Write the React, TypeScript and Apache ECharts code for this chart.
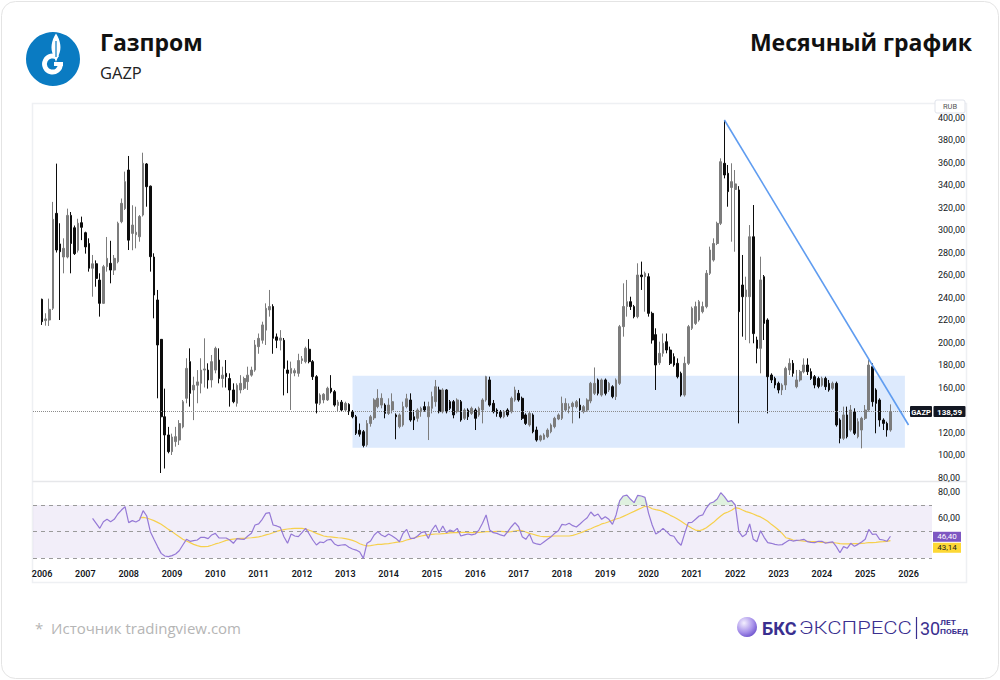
import React, { useEffect, useRef } from "react";
import * as echarts from "echarts";

// ---------- DATA (monthly GAZP candles, Jan 2006 .. Aug 2025) ----------
const FIRST_YEAR = 2006;

const opens = [
  238.4, 219.5, 220, 230.4, 314.8, 287.6, 276, 276, 313, 302, 282, 306.5,
  297.6, 288, 266, 270, 255.5, 234.8, 267.4, 270.4, 264.4, 271.8, 307.4, 319,
  353.3, 297, 295.8, 294, 313.3, 358.7, 339, 276, 237.8, 202.8, 134, 117.8,
  103, 111.9, 113.3, 125, 150.4, 183, 157.8, 162, 163.7, 175.5, 175.5, 166.7,
  175.5, 184.4, 168, 172.6, 168, 157.8, 146, 157.8, 159.3, 165.2, 171, 175.5,
  196.3, 202, 211, 229, 232, 205, 202, 202, 175.5, 172.6, 173, 172.6,
  184, 183, 194, 183, 169.6, 146, 149, 149, 159.3, 156.3, 144, 147,
  140, 145, 138.5, 134, 122, 120.7, 109, 128, 133, 143, 144.4, 144.4,
  137, 140, 135.6, 125.2, 126.7, 143, 148.9, 134, 132.6, 138.5, 143, 134,
  141.5, 147.4, 157.8, 138.5, 157.8, 147.4, 147.4, 138.5, 147.4, 132.6, 140, 137,
  140, 135.6, 140, 148.9, 166.7, 145.9, 140, 138.5, 134, 140, 138.5, 148.9,
  154.8, 150.4, 135.6, 126.7, 135.6, 122.2, 113.3, 114, 116.3, 120.7, 125.2, 132,
  132.6, 140, 141.5, 143, 143, 144.4, 138.5, 140, 148, 154.8, 166.7, 153.3,
  166.7, 157.8, 160.7, 151.9, 163.7, 214.1, 232, 236.3, 231.9, 223, 260, 258.5,
  258.5, 225.9, 207, 182, 190.4, 200.7, 193.3, 187.4, 181.5, 172.6, 153.3, 181.5,
  212.6, 217, 220, 227.4, 231.9, 261.5, 273.3, 288, 305.9, 359.3, 350.4, 337.8,
  336, 335.6, 251.1, 240.7, 240.7, 294, 202.2, 194.8, 258.5, 220, 171.1, 168.1,
  163.7, 157.8, 162.2, 175.6, 181.5, 160.7, 166.7, 174, 180, 174.1, 169.6, 168,
  162, 168.1, 163.7, 159.3, 163.7, 131.1, 114.8, 135.6, 122.2, 138.5, 116.3, 122.2,
  132.6, 140, 178.5, 157.8, 148.9, 131.1, 128.1, 122.2,
];

const closes = [
  218.5, 221, 229.5, 309.5, 282.2, 280.7, 283.7, 313, 288, 279, 306, 302.4,
  285, 266, 270, 257, 234.8, 267.4, 274.8, 264.4, 274.8, 306, 323.7, 343,
  291, 304.4, 298, 312, 359.3, 338.5, 276.3, 242.2, 197.8, 134, 117.8, 103,
  116, 116.3, 128, 147.4, 177, 154.8, 162, 165, 175.5, 176.5, 166.7, 183,
  194.8, 168, 171, 169.6, 157.8, 147.4, 162, 163.7, 168, 171, 175.5, 197.8,
  203.7, 215.6, 230.4, 232, 203.7, 202, 204, 177, 172.6, 177, 175, 184,
  185.5, 194.8, 183, 169.6, 146, 153.3, 154, 159.3, 156.3, 144.4, 147, 140,
  145.9, 138.5, 134, 119.3, 118.5, 108.5, 128, 134, 148.9, 150.4, 150.4, 137,
  144.4, 147.4, 134, 135.6, 143, 150, 131.1, 131.1, 140, 141.5, 140, 143,
  151.9, 160.7, 138.5, 157.8, 138.5, 141.5, 135.6, 148.9, 131.1, 140, 134, 141.5,
  132.6, 141.5, 148.9, 169.6, 144.4, 138.5, 137, 134, 138.5, 135.6, 150.4, 157.8,
  148.9, 132.6, 128.1, 137, 120.7, 113.3, 117, 117.8, 122.2, 126.7, 132.6, 135.6,
  145.9, 145.9, 143, 145.9, 147.4, 140, 143, 148.9, 163.7, 163.7, 154.8, 166.7,
  154.8, 163.7, 151.9, 166.7, 214.1, 232, 236.3, 231.9, 223, 260, 258.5, 261.5,
  225.9, 202.2, 180, 190.4, 199.3, 193.3, 181.5, 180, 169.6, 153.3, 181.5, 214.1,
  230.4, 231.9, 236.3, 231.9, 261.5, 282.2, 288, 305.9, 360.7, 348.9, 334.1, 343,
  341, 227.4, 240.7, 246.7, 294, 207.9, 194.8, 255.6, 217, 169.6, 166.7, 162.2,
  157.8, 162.2, 177, 181.5, 172.6, 166.7, 174.1, 180, 174.1, 168.1, 162.2, 161,
  168.1, 160.7, 157.8, 163.7, 126.7, 114.8, 135.6, 116.3, 140, 119.3, 129.6, 132.6,
  140, 180, 147.4, 145.9, 131.1, 128.1, 122.2, 138.59,
];

const lows = [
  215.6, 215, 214.7, 228.9, 280, 220, 261.5, 274.8, 261.5, 277.8, 280, 291,
  279, 263, 240.7, 249.6, 223, 234.2, 263, 252.6, 260, 270.4, 306, 317.8,
  282.2, 282, 283.7, 289.6, 312, 320.7, 263, 221.5, 150.4, 84, 88, 101.5,
  100, 107.4, 108.9, 123.7, 146, 143, 131, 146, 154.8, 160, 159, 160,
  172.6, 163.7, 160, 160, 143, 146, 143, 154.8, 157.8, 157.8, 169.6, 174,
  190, 199, 197.8, 223, 190, 195, 193, 153, 155, 140, 170, 169.6,
  181, 181.5, 181.5, 166.7, 137, 144.4, 146, 148, 154.8, 143, 139, 138.5,
  138.5, 135.6, 132.6, 117.8, 116.3, 106.8, 107.4, 125.2, 131.1, 141.5, 141.5, 132.6,
  135.6, 137, 114, 123.7, 125.2, 141.5, 129.6, 122.2, 129.6, 134, 138.5, 113.3,
  137, 143, 137, 137, 137, 140, 132.6, 137, 129.6, 131.1, 131.1, 135.6,
  122.2, 134, 128.1, 147.4, 143, 137, 134, 132.6, 132.6, 134, 137, 147.4,
  147.4, 131.1, 126.7, 125.2, 119.3, 111.9, 111.9, 113.3, 115, 119.3, 123.7, 131,
  131.1, 138.5, 137, 128.1, 141.5, 132.6, 137, 138.5, 146, 153.3, 153, 151.9,
  153, 156, 150.4, 148.9, 162.2, 205.2, 223, 228.9, 221.5, 221.5, 246.7, 227.4,
  223, 199, 157.8, 180, 187.4, 190.4, 180, 178.5, 168.1, 151.9, 151.9, 180,
  211.1, 215.6, 218.5, 225.9, 230.4, 260, 271.9, 286.6, 304.4, 345.9, 320.7, 289.6,
  280.7, 128.1, 205.2, 202.2, 199.3, 199.3, 181.5, 172.6, 202.2, 137, 164, 159.3,
  154.8, 153.3, 157.8, 171.1, 169.6, 159.3, 165.2, 172.6, 171.1, 166.7, 159.3, 159.3,
  160.7, 157.8, 156.3, 157.8, 125.2, 110.4, 113.3, 114.8, 120.7, 117.8, 114.8, 105.9,
  131.1, 138.5, 143, 119.3, 125.2, 122.2, 116.3, 120.7,
];

const highs = [
  239, 226, 239, 325, 359, 306, 292.6, 319, 316, 304, 310, 311.9,
  298.5, 292.6, 277.8, 273, 261.5, 269, 293.8, 290.4, 277.8, 307.4, 328, 351.9,
  365.8, 322, 320.7, 313.3, 368.7, 359.5, 339.5, 279.3, 246.7, 203, 159, 125,
  119, 125, 131, 148.9, 186, 194.8, 169.6, 175.5, 186, 203.7, 181.5, 188.9,
  196.3, 194.8, 178.5, 184.4, 172.6, 163.7, 163.7, 171, 169.6, 178.5, 178.5, 202.2,
  208, 218.5, 234.8, 246.7, 234, 208, 211, 204, 184, 183, 177, 190,
  188, 196.3, 203, 184.4, 171, 154.8, 155, 160.7, 171, 157.8, 149, 148.9,
  147.4, 146, 140, 135.6, 128, 122.2, 131, 135.6, 150.4, 158.5, 154.8, 145.9,
  150.4, 154.8, 137, 137, 147.4, 154.4, 154.8, 140, 141.5, 143, 147.4, 147.4,
  156.3, 166.7, 160.7, 159.3, 158.5, 148.9, 148.9, 150.4, 148.9, 141.5, 141.5, 143,
  141.5, 143, 150.4, 170.4, 169.6, 148.9, 141.5, 140, 140, 141.5, 151.9, 160.7,
  157.8, 151.9, 137, 138.5, 137, 125.2, 118, 119.3, 123.7, 128.1, 134, 137,
  151.9, 150.4, 145.9, 147.4, 148.9, 150.4, 144.4, 150.4, 165, 177.8, 168, 168,
  168, 165, 162, 168.1, 215.6, 252.6, 255.6, 240.7, 233.4, 270.4, 271.9, 263,
  261.5, 227.4, 212.6, 200.7, 208, 208, 196.3, 190.4, 185.9, 174.1, 187.4, 215.6,
  231.9, 236.3, 237.8, 236.3, 264.4, 285.2, 292.6, 307.4, 363.7, 397.8, 357.8, 359.3,
  353.3, 339, 277.8, 258.5, 304.4, 322.2, 205.2, 276.3, 260, 221.5, 172.6, 169.6,
  165.2, 163.7, 178.5, 185.9, 184.4, 175.6, 175.6, 185.9, 185.9, 177, 171.1, 169.6,
  169.6, 169.6, 166.7, 165.2, 165.2, 132.6, 143, 143, 144.4, 141.5, 132.6, 134,
  144.4, 184.4, 181.5, 159.3, 150.4, 132.6, 129.6, 145,
];

// RSI(14), first value Mar 2007
const RSI_START = "2007-03";
const rsi = [
  59.9, 56.2, 52.4, 57.4, 59.2, 57.4, 59.2, 63.2, 66.2, 68.7,
  56.7, 58.2, 57.2, 58.7, 65.7, 61.7, 49.9, 44.1, 38.6, 33.5, 31.5, 31.0,
  31.8, 33.0, 35.5, 39.8, 44.1, 42.6, 43.1, 43.6, 45.6, 45.6, 44.6, 47.4,
  48.6, 45.1, 45.1, 45.1, 43.6, 41.1, 44.6, 44.3, 44.1, 46.6, 48.6, 54.9,
  55.7, 59.2, 63.7, 64.2, 54.9, 54.2, 53.1, 46.1, 41.1, 48.1, 46.6, 46.1,
  49.1, 52.4, 48.1, 43.6, 39.8, 42.1, 41.6, 43.6, 44.1, 40.6, 39.3, 39.8,
  40.1, 38.1, 36.8, 36.0, 34.5, 29.7, 41.1, 42.8, 47.4, 49.9, 47.4, 46.1,
  48.1, 46.6, 44.8, 42.3, 48.6, 51.6, 44.8, 44.8, 46.6, 49.1, 49.9, 44.8,
  51.1, 54.9, 49.1, 54.2, 49.1, 51.1, 49.9, 52.4, 46.6, 47.4, 48.1, 47.4,
  48.1, 51.1, 56.2, 62.5, 51.1, 49.1, 48.6, 47.4, 46.6, 49.9, 53.6, 56.7,
  53.6, 46.1, 44.1, 48.1, 41.6, 40.6, 40.1, 42.1, 44.1, 46.1, 48.6, 50.6,
  55.4, 54.9, 56.2, 54.4, 53.4, 55.7, 58.2, 60.4, 64.7, 61.7, 63.2, 59.2,
  61.2, 59.2, 55.4, 62.5, 73.3, 76.8, 77.5, 74.3, 71.8, 77.3, 76.8, 75.8,
  63.7, 54.9, 48.1, 49.9, 52.4, 49.9, 47.1, 46.4, 42.3, 39.6, 48.6, 56.7,
  56.9, 59.2, 61.7, 62.5, 67.7, 71.3, 72.3, 74.5, 79.3, 76.3, 72.5, 73.3,
  70.0, 49.9, 46.1, 47.9, 55.7, 44.1, 42.3, 50.6, 45.6, 41.6, 41.1, 40.3,
  39.8, 40.1, 41.8, 43.6, 42.8, 43.3, 43.6, 44.1, 42.3, 41.8, 41.6, 42.6,
  42.6, 41.1, 41.8, 42.1, 38.6, 34.0, 38.6, 37.3, 41.1, 38.8, 40.3, 42.1,
  44.1, 51.6, 47.9, 48.1, 44.1, 43.6, 42.6, 46.4,
];

// RSI moving average, first value Apr 2008
const MA_START = "2008-04";
const rsiMa = [
  60.2, 60.7, 60.2, 59.2, 58.2, 56.9, 55.4, 53.6, 51.6,
  49.9, 47.9, 46.1, 44.1, 42.8, 41.6, 40.3, 39.3, 38.6, 38.6, 38.8, 39.6,
  40.6, 41.3, 42.3, 43.3, 43.8, 44.3, 44.6, 44.8, 44.8, 45.1, 45.3, 45.6,
  45.9, 46.6, 47.4, 48.1, 49.1, 50.1, 50.9, 51.4, 51.9, 52.1, 52.4, 52.4,
  52.4, 51.9, 50.9, 49.9, 48.6, 47.6, 46.6, 46.1, 45.9, 45.6, 45.3, 45.1,
  44.6, 44.1, 43.3, 42.3, 40.8, 39.8, 39.1, 39.3, 39.8, 40.3, 40.3, 40.6,
  40.8, 41.3, 41.8, 42.1, 42.6, 43.6, 44.3, 45.1, 45.9, 46.6, 47.1, 47.6,
  47.9, 48.1, 48.1, 48.4, 48.6, 48.9, 49.1, 49.1, 49.4, 49.4, 49.4, 49.1,
  49.1, 49.4, 49.6, 49.9, 49.9, 49.9, 50.1, 50.1, 49.9, 49.6, 49.9, 50.4,
  50.9, 50.6, 49.6, 48.6, 47.9, 47.1, 46.4, 46.1, 46.1, 46.4, 46.6, 46.6,
  46.6, 46.6, 46.6, 47.1, 47.9, 48.9, 49.9, 51.1, 52.1, 53.4, 54.4, 55.7,
  56.4, 57.4, 58.4, 59.4, 60.2, 61.4, 62.7, 64.0, 65.2, 66.5, 67.7, 69.0,
  68.7, 67.2, 66.5, 66.0, 65.0, 63.7, 62.2, 61.0, 59.4, 57.7, 55.9, 54.2,
  52.4, 51.1, 50.6, 51.4, 52.9, 54.9, 56.9, 59.4, 61.7, 63.7, 64.7, 66.0,
  68.0, 67.5, 66.2, 65.0, 64.2, 63.2, 62.0, 61.0, 59.4, 57.7, 55.4, 53.4,
  51.1, 48.6, 45.3, 44.6, 43.6, 43.3, 43.1, 42.8, 42.6, 42.3, 42.3, 42.1,
  41.8, 41.8, 41.6, 41.6, 41.3, 40.8, 40.6, 40.6, 40.6, 40.8, 40.8, 41.1,
  41.3, 41.6, 41.6, 41.8, 42.1, 42.3, 42.6, 43.14,
];

// Drawn annotations (price / month anchors)
const RANGE_FROM = "2013-03";
const RANGE_TO = "2025-12";
const RANGE_LOW = 106.5;
const RANGE_HIGH = 170.5;
const TREND_START: [string, number] = ["2021-10", 397.8];
const TREND_END: [string, number] = ["2026-01", 126.7];

const PRICE_MIN = 80;
const PRICE_MAX = 400;
const PRICE_STEP = 20;
const RSI_MIN = 20;
const RSI_MAX = 90;
const RSI_STEP = 20;
const RSI_LEVELS = [70, 50, 30];

// ---------- helpers ----------
const ym = (k: number) => {
  const y = FIRST_YEAR + Math.floor(k / 12);
  const m = (((k % 12) + 12) % 12) + 1;
  return `${y}-${m < 10 ? "0" + m : m}`;
};
const months = opens.map((_, k) => ym(k));
const PAD_BEFORE = 2;
const PAD_AFTER = 11;
const axisCats: string[] = [];
for (let k = -PAD_BEFORE; k < opens.length + PAD_AFTER; k++) axisCats.push(ym(k));

const rsiOffset = months.indexOf(RSI_START);
const maOffset = months.indexOf(MA_START);
const rsiMonths = rsi.map((_, j) => ym(rsiOffset + j));
const maMonths = rsiMa.map((_, j) => ym(maOffset + j));

const lastClose = closes[closes.length - 1];
const lastRsi = rsi[rsi.length - 1];
const lastMa = rsiMa[rsiMa.length - 1];

const fmt = (v: number) => v.toFixed(2).replace(".", ",");

const FLAME_D =
  "M56,33.5 C60.8,41 61.8,48.5 58.8,55 C57.8,57.5 56.7,59.8 56,62 C55.3,59.8 54.2,57.5 53.2,55 C50.2,48.5 51.2,41 56,33.5 Z";
echarts.graphic.registerShape("gpFlame", echarts.graphic.extendPath(FLAME_D, {}) as any);

const GRID_L = 33;
const GRID_W = 899;

function buildOption(): any {
  const axisFont = { color: "#131722", fontSize: 9, fontFamily: "Roboto" };
  return {
    animation: false,
    backgroundColor: "transparent",
    grid: [
      { left: GRID_L, width: GRID_W, top: 117.5, height: 360 },
      { left: GRID_L, width: GRID_W, top: 478.5, height: 92.75 },
    ],
    xAxis: [
      {
        type: "category",
        gridIndex: 0,
        data: axisCats,
        boundaryGap: true,
        axisLine: { show: false },
        axisTick: { show: false },
        axisLabel: { show: false },
        splitLine: { show: false },
      },
      {
        type: "category",
        gridIndex: 1,
        data: axisCats,
        boundaryGap: true,
        axisLine: { show: false },
        axisTick: { show: false },
        splitLine: { show: false },
        axisLabel: {
          show: true,
          interval: (_i: number, v: string) => v.endsWith("-01"),
          formatter: (v: string) => v.slice(0, 4),
          margin: 3,
          verticalAlign: "middle",
          fontWeight: 600,
          ...axisFont,
        },
      },
    ],
    yAxis: [
      {
        type: "value",
        gridIndex: 0,
        position: "right",
        min: PRICE_MIN,
        max: PRICE_MAX,
        interval: PRICE_STEP,
        axisLine: { show: false },
        axisTick: { show: false },
        splitLine: { show: false },
        // the last-price tag hides the tick label it covers
        axisLabel: {
          formatter: (v: number) => (Math.abs(v - lastClose) < 8 ? "" : fmt(v)),
          margin: 6,
          ...axisFont,
        },
      },
      {
        type: "value",
        gridIndex: 1,
        position: "right",
        min: RSI_MIN,
        max: RSI_MAX,
        interval: RSI_STEP,
        axisLine: { show: false },
        axisTick: { show: false },
        splitLine: { show: false },
        axisLabel: {
          formatter: (v: number) => (v < lastRsi + 5 && v > lastRsi - 15 ? "" : fmt(v)),
          margin: 6,
          showMinLabel: false,
          showMaxLabel: false,
          ...axisFont,
        },
      },
    ],
    series: [
      {
        type: "candlestick",
        xAxisIndex: 0,
        yAxisIndex: 0,
        data: months.map((m, k) => [m, opens[k], closes[k], lows[k], highs[k]]),
        encode: { x: 0, y: [1, 2, 3, 4] },
        barWidth: "60%",
        itemStyle: {
          color: "#7c7c7c",
          color0: "#0c0c0c",
          borderColor: "#7c7c7c",
          borderColor0: "#0c0c0c",
          borderWidth: 1,
        },
        markArea: {
          silent: true,
          itemStyle: { color: "rgba(56,132,245,0.17)" },
          data: [[{ xAxis: RANGE_FROM, yAxis: RANGE_HIGH }, { xAxis: RANGE_TO, yAxis: RANGE_LOW }]],
        },
        markLine: {
          silent: true,
          symbol: ["none", "none"],
          label: { show: false },
          data: [
            { yAxis: lastClose, lineStyle: { color: "#8c8c8c", type: "dotted", width: 1 } },
            [
              { coord: TREND_START, lineStyle: { color: "#5f9cf0", type: "solid", width: 1.6 } },
              { coord: TREND_END },
            ],
          ],
        },
      },
      {
        type: "line",
        xAxisIndex: 1,
        yAxisIndex: 1,
        data: rsiMonths.map((m, j) => [m, Math.max(rsi[j], RSI_LEVELS[0])]),
        symbol: "none",
        lineStyle: { width: 0, opacity: 0 },
        areaStyle: { origin: RSI_LEVELS[0], color: "rgba(76,175,80,0.26)" },
        z: 3,
        silent: true,
      },
      {
        type: "line",
        xAxisIndex: 1,
        yAxisIndex: 1,
        data: rsiMonths.map((m, j) => [m, rsi[j]]),
        symbol: "none",
        lineStyle: { color: "#9579d6", width: 1.2 },
        z: 5,
        silent: true,
        markArea: {
          silent: true,
          itemStyle: { color: "rgba(126,87,194,0.1)" },
          data: [[{ yAxis: RSI_LEVELS[2] }, { yAxis: RSI_LEVELS[0] }]],
        },
        markLine: {
          silent: true,
          symbol: ["none", "none"],
          label: { show: false },
          lineStyle: { color: "#9a9a9a", type: [4, 4], width: 1 },
          data: RSI_LEVELS.map((v) => ({ yAxis: v })),
        },
      },
      {
        type: "line",
        xAxisIndex: 1,
        yAxisIndex: 1,
        data: maMonths.map((m, j) => [m, rsiMa[j]]),
        symbol: "none",
        lineStyle: { color: "#f6d04d", width: 1.2 },
        z: 4,
        silent: true,
      },
    ],
  };
}

function T(text: string, x: number, y: number, font: string, fill: string, align = "left", sx = 1, z = 60) {
  return { type: "text", x, y, z, scaleX: sx, style: { text, font, fill, align, verticalAlign: "middle" } };
}

function buildGraphics(py: number, ry: number): any[] {
  const bks = "#3a2f8f";
  return [
    {
      type: "rect",
      z: -20,
      shape: { x: 1.5, y: 1.5, width: 997, height: 677, r: 14 },
      style: { fill: "#ffffff", stroke: "#e4e4e4", lineWidth: 1 },
    },
    {
      type: "rect",
      z: -10,
      shape: { x: 32.5, y: 103.5, width: 934, height: 479 },
      style: { fill: "none", stroke: "#eef0f3", lineWidth: 1.5 },
    },
    {
      type: "line",
      z: -10,
      shape: { x1: 32.5, y1: 481.5, x2: 966.5, y2: 481.5 },
      style: { stroke: "#e6e7ea", lineWidth: 1.5 },
    },
    // Gazprom logo
    { type: "circle", z: 20, shape: { cx: 53, cy: 59, r: 27 }, style: { fill: "#0a7bc2" } },
    {
      type: "arc",
      z: 21,
      shape: { cx: 52.5, cy: 64, r: 8, startAngle: 0, endAngle: Math.PI * 1.72, clockwise: true },
      style: { stroke: "#ffffff", lineWidth: 4.8, fill: "none" },
    },
    { type: "line", z: 21, shape: { x1: 54, y1: 64, x2: 63, y2: 64 }, style: { stroke: "#ffffff", lineWidth: 4 } },
    { type: "gpFlame", z: 22, style: { fill: "#ffffff" } },
    { type: "line", z: 23, shape: { x1: 56, y1: 41, x2: 56, y2: 57 }, style: { stroke: "#0a7bc2", lineWidth: 1.2 } },
    // header texts
    T("Газпром", 100, 42, '700 23px "Open Sans"', "#111111"),
    T("GAZP", 100, 72, '400 16.5px "Open Sans"', "#222222"),
    T("Месячный график", 972, 42, '700 23px "Open Sans"', "#111111", "right"),
    // RUB box
    {
      type: "rect",
      z: 50,
      shape: { x: 935, y: 100, width: 30, height: 13, r: 2 },
      style: { fill: "#ffffff", stroke: "#e0e3eb", lineWidth: 1 },
    },
    T("RUB", 950, 106.5, '7.5px "Roboto"', "#555555", "center"),
    // last price tags
    { type: "rect", z: 50, shape: { x: 910, y: py - 5.5, width: 22, height: 11, r: 1 }, style: { fill: "#131722" } },
    T("GAZP", 921, py + 0.5, '700 7.5px "Roboto"', "#ffffff", "center"),
    { type: "rect", z: 50, shape: { x: 933.5, y: py - 5.5, width: 32, height: 11, r: 1 }, style: { fill: "#131722" } },
    T(fmt(lastClose), 949.5, py + 0.5, '700 8px "Roboto"', "#ffffff", "center"),
    // RSI tags
    { type: "rect", z: 50, shape: { x: 933, y: ry - 4.5, width: 28, height: 10 }, style: { fill: "#7e57c2" } },
    T(fmt(lastRsi), 947, ry + 0.5, '400 8px "Roboto"', "#ffffff", "center"),
    { type: "rect", z: 50, shape: { x: 933, y: ry + 6.5, width: 28, height: 10 }, style: { fill: "#fdd835" } },
    T(fmt(lastMa), 947, ry + 11.5, '400 8px "Roboto"', "#222222", "center"),
    // footer
    T("*  Источник tradingview.com", 35, 628, '400 15px "Open Sans"', "#b5b5b5"),
    {
      type: "circle",
      z: 60,
      shape: { cx: 747, cy: 627, r: 10 },
      style: {
        fill: new echarts.graphic.RadialGradient(0.35, 0.3, 0.85, [
          { offset: 0, color: "#f3effe" },
          { offset: 0.55, color: "#a892ea" },
          { offset: 1, color: "#5b3fc4" },
        ]),
      },
    },
    T("БКС", 762, 628, '700 18px "Roboto"', bks),
    T("ЭКСПРЕСС", 799, 628, '300 19px "Roboto"', bks, "left", 1.16),
    { type: "line", z: 60, shape: { x1: 916.5, y1: 617, x2: 916.5, y2: 639 }, style: { stroke: bks, lineWidth: 1.2 } },
    T("30", 920, 628, '400 18px "Roboto"', bks),
    T("ЛЕТ", 940, 622.5, '700 7px "Roboto"', bks, "left", 1.2),
    T("ПОБЕД", 940, 632, '700 7px "Roboto"', bks, "left", 1.2),
  ];
}

export default function App() {
  const ref = useRef<HTMLDivElement>(null);
  useEffect(() => {
    if (!ref.current) return;
    const chart = echarts.init(ref.current, undefined, { renderer: "svg" });
    chart.setOption(buildOption());
    const py = chart.convertToPixel({ yAxisIndex: 0 }, lastClose) as unknown as number;
    const ry = chart.convertToPixel({ yAxisIndex: 1 }, lastRsi) as unknown as number;
    chart.setOption({ graphic: buildGraphics(py, ry) });
    return () => chart.dispose();
  }, []);
  return (
    <div
      ref={ref}
      style={{ position: "fixed", left: 0, top: 0, width: 1000, height: 680, background: "#ffffff" }}
    />
  );
}
